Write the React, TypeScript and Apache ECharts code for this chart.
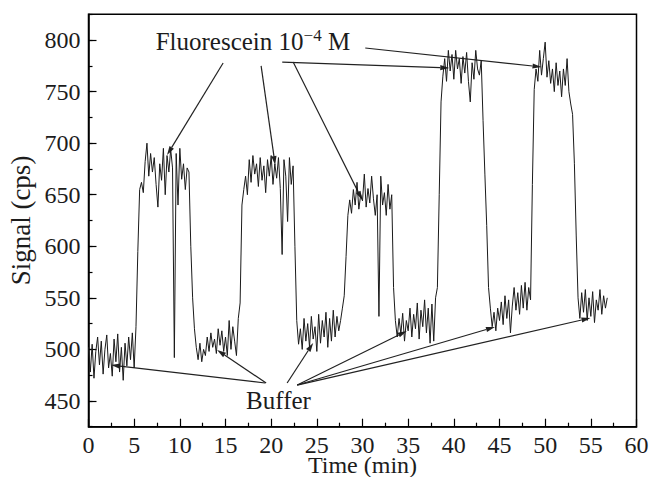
import React, { useEffect, useRef } from "react";
import * as echarts from "echarts";

// Sampling step of the recorded trace (minutes)
const timeStep = 0.2;

// Signal (cps), one row per minute (t = m, m+0.2, ..., m+0.8)
const signal = [
  502, 478, 505, 472, 498, // 0
  512, 485, 508, 476, 500, // 1
  514, 482, 496, 474, 510, // 2
  488, 515, 478, 502, 470, // 3
  506, 484, 512, 490, 516, // 4
  482, 522, 595, 655, 662, // 5
  652, 682, 700, 668, 690, // 6
  672, 686, 660, 638, 680, // 7
  664, 695, 650, 688, 672, // 8
  694, 676, 492, 690, 640, // 9
  695, 665, 680, 655, 676, // 10
  672, 600, 550, 520, 502, // 11
  490, 506, 488, 500, 494, // 12
  512, 498, 516, 502, 510, // 13
  496, 520, 504, 518, 498, // 14
  512, 494, 528, 500, 522, // 15
  508, 494, 530, 545, 640, // 16
  655, 668, 650, 684, 662, // 17
  688, 670, 680, 658, 686, // 18
  664, 678, 652, 684, 668, // 19
  688, 660, 680, 666, 686, // 20
  656, 592, 684, 668, 624, // 21
  686, 660, 678, 600, 528, // 22
  505, 520, 500, 530, 508, // 23
  525, 502, 532, 510, 522, // 24
  498, 534, 506, 528, 512, // 25
  536, 502, 530, 508, 538, // 26
  512, 532, 518, 528, 540, // 27
  552, 590, 630, 645, 632, // 28
  655, 640, 662, 636, 650, // 29
  644, 670, 638, 656, 642, // 30
  668, 646, 630, 650, 532, // 31
  668, 640, 652, 630, 660, // 32
  636, 650, 560, 528, 512, // 33
  530, 515, 535, 508, 528, // 34
  518, 540, 512, 534, 520, // 35
  545, 510, 538, 522, 548, // 36
  516, 540, 506, 544, 508, // 37
  550, 560, 650, 740, 765, // 38
  782, 760, 790, 770, 786, // 39
  762, 790, 772, 782, 758, // 40
  784, 768, 788, 760, 740, // 41
  778, 762, 790, 772, 766, // 42
  780, 722, 670, 620, 560, // 43
  540, 522, 536, 518, 540, // 44
  528, 546, 524, 552, 530, // 45
  548, 516, 542, 560, 538, // 46
  555, 534, 562, 540, 565, // 47
  538, 560, 548, 660, 752, // 48
  772, 760, 790, 766, 782, // 49
  798, 764, 780, 758, 772, // 50
  750, 778, 756, 770, 745, // 51
  772, 756, 782, 750, 738, // 52
  728, 680, 610, 550, 530, // 53
  555, 536, 558, 528, 550, // 54
  532, 556, 526, 548, 538, // 55
  558, 534, 552, 540, 550, // 56
];

const yTickLabels = [450, 500, 550, 600, 650, 700, 750, 800];

// Annotations in data coordinates [time, signal]
const fluorLabelAt = [18.0, 799];
const fluorArrows = [
  [[14.74, 777.8], [8.6, 688.5]],
  [[18.9, 774.9], [20.44, 678.8]],
  [[22.41, 778.7], [29.97, 644.9]],
  [[21.21, 778.7], [39.5, 772.9]],
  [[30.3, 792.3], [49.6, 773.9]],
];
const bufferLabelAt = [20.8, 450];
const bufferArrows = [
  [[19.34, 467.4], [2.47, 484.8]],
  [[19.45, 467.4], [14.08, 499.4]],
  [[21.75, 467.4], [24.6, 506.2]],
  [[22.85, 465.4], [34.85, 517.8]],
  [[22.85, 465.4], [44.5, 521.7]],
  [[22.85, 465.4], [54.96, 530.4]],
];

const FONT = "Liberation Serif";
const INK = "#1c1c1c";

export default function App() {
  const ref = useRef<HTMLDivElement>(null);
  useEffect(() => {
    const chart = echarts.init(ref.current!, null, { renderer: "svg" });
    const data = signal.map((v, i) => [Math.round(i * timeStep * 10) / 10, v]);
    chart.setOption({
      animation: false,
      backgroundColor: "#fff",
      textStyle: { fontFamily: FONT },
      grid: {
        left: 88.5,
        right: 13.5,
        top: 14.3,
        bottom: 50.3,
        outerBoundsMode: "none",
        containLabel: false,
        show: true,
        borderColor: "#000",
        borderWidth: 1.5,
        backgroundColor: "transparent",
      },
      xAxis: {
        type: "value",
        min: 0,
        max: 60,
        interval: 5,
        name: "Time (min)",
        nameLocation: "middle",
        nameGap: 29,
        nameMoveOverlap: false,
        nameTextStyle: { fontFamily: FONT, fontSize: 24, lineHeight: 18, color: INK },
        axisLine: { show: true, lineStyle: { color: "#000", width: 1.5 } },
        axisTick: { show: true, inside: true, length: 8, lineStyle: { color: "#000", width: 1.2 } },
        minorTick: { show: true, splitNumber: 2, length: 4, lineStyle: { color: "#000", width: 1.2 } },
        splitLine: { show: false },
        minorSplitLine: { show: false },
        axisLabel: { fontFamily: FONT, fontSize: 24, lineHeight: 16, color: INK, margin: 10 },
      },
      yAxis: [
        {
          type: "value",
          position: "left",
          min: 425,
          max: 825,
          name: "Signal (cps)",
          nameLocation: "middle",
          nameRotate: 90,
          nameGap: 54,
          nameMoveOverlap: false,
          nameTextStyle: { fontFamily: FONT, fontSize: 27, color: INK },
          axisLine: { show: true, lineStyle: { color: "#000", width: 1.5 } },
          axisTick: {
            show: true,
            inside: true,
            length: 8,
            customValues: yTickLabels,
            lineStyle: { color: "#000", width: 1.2 },
          },
          axisLabel: { fontFamily: FONT, fontSize: 24, color: INK, margin: 8, customValues: yTickLabels },
          splitLine: { show: false },
        },
        {
          type: "value",
          position: "left",
          min: 425,
          max: 825,
          interval: 25,
          axisLine: { show: false },
          axisTick: { show: true, inside: true, length: 4, lineStyle: { color: "#000", width: 1.2 } },
          axisLabel: { show: false },
          splitLine: { show: false },
        },
      ],
      series: [
        {
          type: "line",
          data,
          xAxisIndex: 0,
          yAxisIndex: 0,
          showSymbol: false,
          symbol: "none",
          lineStyle: { color: "#1a1a1a", width: 1 },
        },
      ],
    });

    const toPx = (p: number[]) => chart.convertToPixel({ seriesIndex: 0 }, p) as number[];
    const arrow = (a: number[], b: number[]) => {
      const p0 = toPx(a);
      const p1 = toPx(b);
      const dx = p1[0] - p0[0];
      const dy = p1[1] - p0[1];
      const len = Math.hypot(dx, dy);
      const ux = dx / len;
      const uy = dy / len;
      const L = 9;
      const W = 2.6;
      const bx = p1[0] - ux * L;
      const by = p1[1] - uy * L;
      return [
        {
          type: "line",
          silent: true,
          shape: { x1: p0[0], y1: p0[1], x2: bx, y2: by },
          style: { stroke: "#222", lineWidth: 1.2 },
        },
        {
          type: "polygon",
          silent: true,
          shape: {
            points: [
              [p1[0], p1[1]],
              [bx - uy * W, by + ux * W],
              [bx + uy * W, by - ux * W],
            ],
          },
          style: { fill: "#222" },
        },
      ];
    };

    const fl = toPx(fluorLabelAt);
    const bl = toPx(bufferLabelAt);
    const elements: any[] = [];
    fluorArrows.forEach(([a, b]) => elements.push(...arrow(a, b)));
    bufferArrows.forEach(([a, b]) => elements.push(...arrow(a, b)));
    elements.push({
      type: "text",
      x: fl[0],
      y: fl[1],
      silent: true,
      style: {
        text: "{m|Fluorescein 10}{s|\u22124}{m| M}",
        align: "center",
        verticalAlign: "middle",
        rich: {
          m: { fontFamily: FONT, fontSize: 25, lineHeight: 28, fill: INK },
          s: { fontFamily: FONT, fontSize: 17, lineHeight: 17, fill: INK, verticalAlign: "top" },
        },
      },
    });
    elements.push({
      type: "text",
      x: bl[0],
      y: bl[1],
      silent: true,
      style: {
        text: "Buffer",
        align: "center",
        verticalAlign: "middle",
        fontFamily: FONT,
        fontSize: 25,
        fill: INK,
      },
    });
    chart.setOption({ graphic: { elements } });

    return () => chart.dispose();
  }, []);
  return (
    <div
      ref={ref}
      style={{ position: "fixed", left: 0, top: 0, width: 650, height: 477 }}
    />
  );
}
